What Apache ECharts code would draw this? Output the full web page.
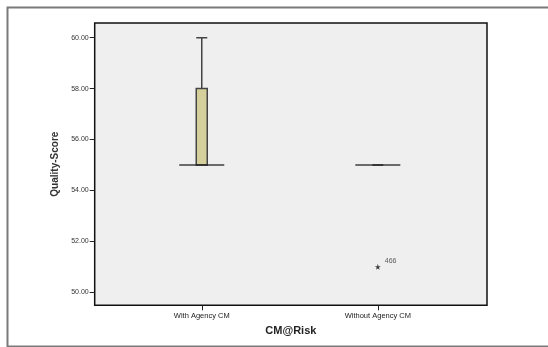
<!DOCTYPE html>
<html>
<head>
<meta charset="utf-8">
<script src="https://cdn.jsdelivr.net/npm/echarts@6/dist/echarts.min.js"></script>
<style>html,body{margin:0;padding:0;background:#fff}#c{width:548px;height:347px}</style>
</head>
<body>
<div id="c"></div>
<script>
// Data
var categories = ['With Agency CM', 'Without Agency CM'];
var categoryPos = [1, 2];
// [min, Q1, median, Q3, max]
var boxValues = [
  [55, 55, 55, 58, 60],
  [55, 55, 55, 55, 55]
];
var outliers = [[2, 51, '466']];
var yTicks = [50, 52, 54, 56, 58, 60];

var chart = echarts.init(document.getElementById('c'), null, {renderer: 'canvas'});
var font = 'Liberation Sans, Arial, sans-serif';
var starPath = 'path://M50,0 L61,35 L98,35 L68,57 L79,91 L50,70 L21,91 L32,57 L2,35 L39,35 Z';

var boxData = boxValues.map(function (v, i) { return [categoryPos[i]].concat(v); });
var medianData = boxValues.map(function (v, i) { return [categoryPos[i], v[2]]; });

chart.setOption({
  animation: false,
  backgroundColor: '#ffffff',
  graphic: [{
    type: 'rect', left: 5, top: 5,
    shape: {width: 620, height: 339},
    style: {fill: 'none', stroke: '#7a7a7a', lineWidth: 2}, silent: true
  }],
  grid: {
    left: 94.7, right: 61, top: 23, bottom: 41.7,
    show: true, backgroundColor: '#efefef', borderColor: '#111', borderWidth: 1.5
  },
  xAxis: {
    type: 'value', min: 0.392, max: 2.62,
    name: 'CM@Risk', nameLocation: 'middle', nameGap: 20,
    nameTextStyle: {fontFamily: font, fontSize: 11, fontWeight: 'bold', color: '#222'},
    axisLine: {show: false},
    splitLine: {show: false},
    axisTick: {show: true, customValues: categoryPos, length: 5, lineStyle: {color: '#222', width: 1}},
    axisLabel: {
      customValues: categoryPos, margin: 7,
      fontFamily: font, fontSize: 7.5, color: '#222',
      formatter: function (v) { return categories[Math.round(v) - 1]; }
    }
  },
  yAxis: {
    type: 'value', min: 49.49, max: 60.577,
    name: 'Quality-Score', nameLocation: 'middle', nameGap: 28, nameRotate: 90,
    nameTextStyle: {fontFamily: font, fontSize: 10, fontWeight: 'bold', color: '#333'},
    axisLine: {show: false},
    splitLine: {show: false},
    axisTick: {show: true, customValues: yTicks, length: 5, lineStyle: {color: '#222', width: 1}},
    axisLabel: {
      customValues: yTicks, margin: 6,
      fontFamily: font, fontSize: 7, color: '#333',
      formatter: function (v) { return v.toFixed(2); }
    }
  },
  series: [
    {
      type: 'boxplot',
      data: boxData,
      boxWidth: [11, 11],
      itemStyle: {color: '#d4cf9b', borderColor: '#444', borderWidth: 1.5}
    },
    {
      type: 'scatter',
      data: medianData,
      symbol: 'rect', symbolSize: [45, 1.5],
      itemStyle: {color: '#111'},
      z: 5
    },
    {
      type: 'scatter',
      data: outliers,
      symbol: starPath, symbolSize: 6,
      itemStyle: {color: '#111'},
      label: {
        show: true, position: 'right', offset: [-1, -6],
        formatter: function (p) { return p.data[2]; },
        fontFamily: font, fontSize: 7, color: '#333'
      },
      z: 6
    }
  ]
});
</script>
</body>
</html>
